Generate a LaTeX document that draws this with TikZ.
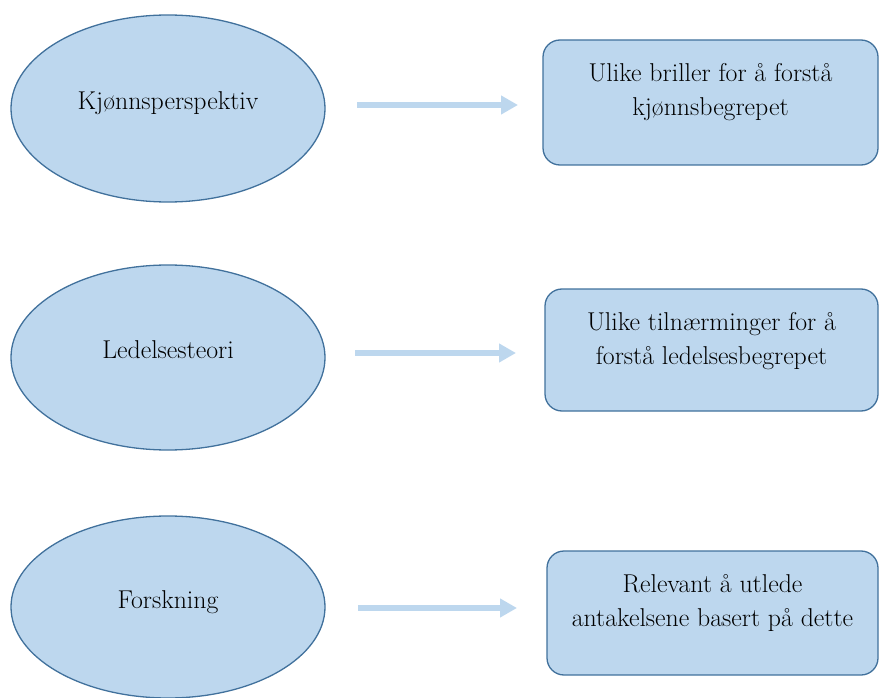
\documentclass[tikz,border=0pt]{standalone}
\usepackage{fontspec}
\usetikzlibrary{shapes.geometric,arrows.meta}
\definecolor{fillblue}{HTML}{BDD7EE}
\definecolor{edgeblue}{HTML}{41719C}
\definecolor{arrowblue}{HTML}{BDD7EE}
\begin{document}
\begin{tikzpicture}[x=1pt,y=-1pt,
  txtfont/.style={font=\rmfamily\fontsize{25.8pt}{34pt}\selectfont},
  oval/.style={ellipse, draw=edgeblue, fill=fillblue, line width=1.3pt,
    inner sep=0pt, minimum width=314pt, text height=10pt, text depth=8pt, txtfont},
  roundbox/.style={rectangle, rounded corners=17pt, draw=edgeblue, fill=fillblue,
    line width=1.3pt, inner sep=0pt},
  boxtext/.style={anchor=base, inner sep=0pt, txtfont},
  flow/.style={draw=arrowblue, line width=6pt,
    -{Triangle[length=17pt,width=18pt]}}]
\useasboundingbox (0,0) rectangle (879,698);
% ovals
\node[oval, minimum height=187pt] (e1) at (168,108.5) {Kjønnsperspektiv};
\node[oval, minimum height=185pt] (e2) at (168,357.5) {Ledelsesteori};
\node[oval, minimum height=182pt] (e3) at (168,607) {Forskning};
% boxes
\node[roundbox, minimum width=335pt, minimum height=125pt] (b1) at (710.5,102.5) {};
\node[roundbox, minimum width=333pt, minimum height=122pt] (b2) at (711.5,350) {};
\node[roundbox, minimum width=331pt, minimum height=124pt] (b3) at (712.5,613) {};
\node[boxtext] (t1) at ([yshift=-42pt]b1.north) {\begin{tabular}[t]{@{}c@{}}Ulike briller for å forstå\\ kjønnsbegrepet\end{tabular}};
\node[boxtext] (t2) at ([yshift=-42pt]b2.north) {\begin{tabular}[t]{@{}c@{}}Ulike tilnærminger for å\\ forstå ledelsesbegrepet\end{tabular}};
\node[boxtext] (t3) at ([yshift=-42pt]b3.north) {\begin{tabular}[t]{@{}c@{}}Relevant å utlede\\ antakelsene basert på dette\end{tabular}};
% arrows
\coordinate (a1s) at (357,105); \coordinate (a1e) at (518,105);
\coordinate (a2s) at (355,353); \coordinate (a2e) at (516,353);
\coordinate (a3s) at (358,608); \coordinate (a3e) at (517,608);
\draw[flow] (a1s) -- (a1e);
\draw[flow] (a2s) -- (a2e);
\draw[flow] (a3s) -- (a3e);
\end{tikzpicture}
\end{document}
